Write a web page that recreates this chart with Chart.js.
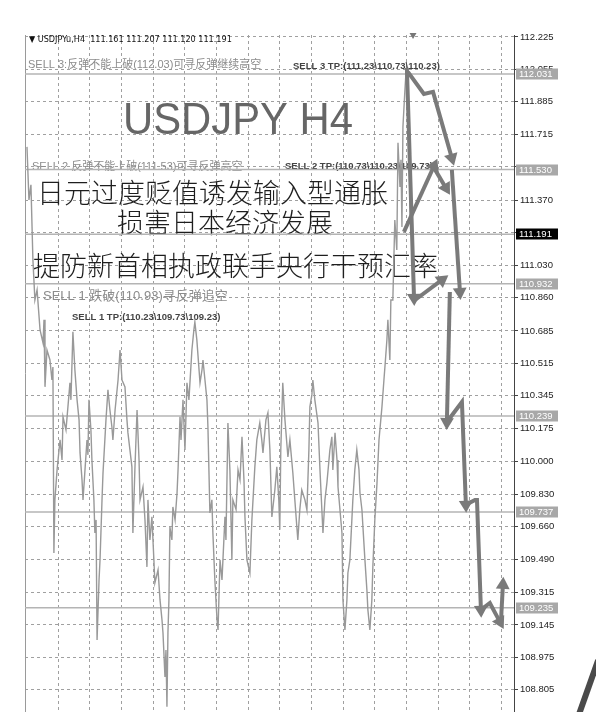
<!DOCTYPE html>
<html>
<head>
<meta charset="utf-8">
<script src="https://cdn.jsdelivr.net/npm/chart.js@4.4.1/dist/chart.umd.min.js"></script>
<style>
  html, body { margin: 0; padding: 0; background: #fff; }
  canvas { display: block; }
</style>
</head>
<body>
<canvas id="chart" width="596" height="712"></canvas>
<script>
// H4 bar index / price
const priceX = [
  0.3, 1.3, 2.3, 3.3, 4.3, 5.4, 6.9, 8.4, 8.9, 9.4,
  10.4, 11.9, 12.9, 13.4, 13.9, 14.4, 15.5, 17.0, 18.0, 18.5,
  20.0, 22.0, 22.5, 23.5, 24.5, 25.6, 26.6, 27.1, 28.1, 28.6,
  29.6, 30.6, 31.1, 31.6, 32.6, 33.1, 34.1, 34.6, 35.2, 35.7,
  36.7, 37.2, 38.2, 38.7, 40.2, 41.2, 42.2, 43.2, 43.7, 44.8,
  46.3, 47.3, 48.3, 49.8, 50.8, 51.3, 52.3, 53.3, 53.8, 54.8,
  55.9, 56.9, 57.4, 58.9, 59.9, 60.9, 61.4, 62.4, 63.4, 64.4,
  64.9, 66.5, 67.5, 68.5, 69.0, 70.0, 70.5, 71.0, 71.5, 72.0,
  72.5, 73.5, 74.0, 75.1, 76.1, 76.6, 77.6, 78.1, 79.1, 80.1,
  81.1, 82.1, 83.6, 84.6, 85.1, 86.1, 87.7, 88.7, 89.2, 90.2,
  91.2, 91.7, 92.7, 93.7, 94.2, 95.2, 96.3, 96.8, 97.8, 98.8,
  100.3, 100.8, 101.8, 102.8, 103.8, 104.3, 105.9, 106.9, 107.9, 108.9,
  109.9, 110.4, 111.4, 112.9, 113.9, 115.4, 116.4, 117.9, 118.9, 119.5,
  121.0, 122.0, 123.0, 124.0, 125.5, 126.5, 127.5, 128.0, 128.5, 129.5,
  130.6, 132.1, 133.1, 134.6, 135.6, 137.1, 138.1, 139.1, 140.7, 141.7,
  142.7, 143.2, 144.2, 144.7, 145.7, 147.3, 148.3, 149.8, 150.8, 151.8,
  153.3, 154.3, 154.8, 155.9, 156.9, 157.4, 158.4, 159.4, 159.9, 160.9,
  161.9, 162.4, 163.4, 164.9, 165.9, 166.9, 168.0, 168.5, 169.5, 170.0,
  171.0, 172.0, 172.5, 173.5, 174.5, 175.0, 176.0, 177.1, 178.1, 179.6,
  180.6, 181.1, 182.1, 182.6, 183.6, 184.1, 185.1, 186.1, 187.1, 187.7,
  188.7, 189.2, 189.7, 190.2, 191.2, 191.7, 192.7, 193.2, 193.7, 194.2,
];
const priceY = [
  111.649, 111.371, 111.450, 111.057, 110.847, 110.900, 110.690, 110.622, 110.743, 110.392,
  110.585, 110.533, 110.428, 110.496, 109.522, 109.800, 109.957, 110.114, 110.009, 110.235,
  110.166, 110.413, 110.324, 110.680, 110.481, 110.324, 110.219, 110.046, 109.905, 109.800,
  109.957, 110.114, 110.036, 110.324, 110.166, 110.009, 109.800, 109.627, 109.695, 109.066,
  109.381, 109.486, 109.800, 109.941, 110.219, 110.376, 110.271, 110.182, 110.114, 110.271,
  110.428, 110.585, 110.428, 110.392, 110.219, 110.151, 110.062, 109.973, 109.627, 109.957,
  110.271, 110.009, 109.800, 109.868, 109.695, 109.449, 109.800, 109.590, 109.711, 109.486,
  109.365, 109.433, 109.276, 109.171, 109.103, 108.873, 109.014, 108.716, 109.103, 109.276,
  109.658, 109.590, 109.763, 109.695, 109.836, 109.957, 110.235, 110.114, 110.324, 110.062,
  110.413, 110.324, 110.585, 110.690, 110.732, 110.638, 110.413, 110.481, 110.533, 110.428,
  110.324, 110.182, 109.732, 109.800, 109.627, 109.381, 109.171, 109.119, 109.486, 109.381,
  109.711, 109.590, 110.203, 109.957, 109.486, 109.800, 109.750, 109.957, 109.905, 110.130,
  109.905, 109.711, 109.486, 109.417, 109.695, 109.973, 110.114, 110.203, 110.114, 110.046,
  110.219, 110.256, 110.062, 109.711, 109.852, 109.973, 109.800, 109.643, 110.062, 110.413,
  110.219, 110.025, 110.114, 109.941, 109.800, 109.590, 109.747, 109.852, 109.800, 109.747,
  110.062, 110.287, 110.350, 110.428, 110.324, 110.203, 109.957, 109.627, 109.800, 109.889,
  110.062, 110.130, 109.957, 110.151, 110.009, 109.868, 109.747, 109.627, 109.276, 109.119,
  109.276, 109.417, 109.486, 109.800, 109.957, 110.062, 109.957, 109.836, 109.747, 109.658,
  109.486, 109.328, 109.224, 109.119, 109.276, 109.449, 109.695, 109.889, 110.114, 110.287,
  110.428, 110.496, 110.638, 110.743, 110.533, 110.847, 110.847, 111.266, 111.109, 111.670,
  111.439, 111.581, 111.230, 111.754, 111.947, 112.031, 112.000, 111.738, 111.371, 111.191,
];

// hand-drawn projection arrows (bar index / price)
const arrowX = [
  [192.2, 195.8],
  [196.3, 209.9],
  [190.7, 205.9],
  [205.9, 211.9],
  [192.7, 200.8, 205.4, 214.9],
  [214.9, 219.0],
  [213.9, 212.4],
  [212.4, 220.0, 222.0],
  [222.0, 226.6, 227.6, 229.6],
  [229.6, 234.1, 239.2],
  [239.7, 240.7],
];
const arrowY = [
  [112.063, 110.858],
  [110.847, 110.952],
  [111.204, 111.549],
  [111.539, 111.434],
  [112.042, 111.926, 111.937, 111.591],
  [111.528, 110.889],
  [110.889, 110.208],
  [110.208, 110.313, 109.774],
  [109.774, 109.800, 109.800, 109.224],
  [109.224, 109.260, 109.161],
  [109.161, 109.355],
];

// horizontal lines and their price labels
const levelValues = [112.031, 111.530, 111.191, 110.932, 110.239, 109.737, 109.235];
const bidLevel = 111.191;

const yTickValues = [
  112.225, 112.055, 111.885, 111.715, 111.545, 111.370, 111.200, 111.030, 110.860, 110.685,
  110.515, 110.345, 110.175, 110.000, 109.830, 109.660, 109.490, 109.315, 109.145, 108.975, 108.805,
];
// ticks whose label sits under a level label box
const coveredTicks = [111.545, 111.200];
const xGridValues = [16, 32, 48, 64, 80, 96, 112, 128, 144, 160, 176, 192, 208, 224, 240];

const headerText = "▼ USDJPYu,H4  111.161 111.207 111.120 111.191";
const titleText = "USDJPY H4";
const sellNotes = [
  "SELL 3:反弹不能上破(112.03)可寻反弹继续高空",
  "SELL 2 反弹不能上破(111.53)可寻反弹高空",
  "SELL 1 跌破(110.93)寻反弹追空",
];
const tpNotes = [
  "SELL 3 TP:(111.23\\110.73\\110.23)",
  "SELL 2 TP:(110.73\\110.23\\109.73)",
  "SELL 1 TP:(110.23\\109.73\\109.23)",
];
const headlines = ["日元过度贬值诱发输入型通胀", "损害日本经济发展", "提防新首相执政联手央行干预汇率"];

const shiftMarkerX = [195.3];
const shiftMarkerY = [112.235];
const penStrokeX = [278.2, 288.8];
const penStrokeY = [108.65, 108.96];

const X_MIN = -0.7;
const X_MAX = 246.3;
const Y_MIN = 108.689;
const Y_MAX = 112.235;

function toPoints(xs, ys) {
  return xs.map((x, i) => ({ x, y: ys[i] }));
}

function arrowRotation(ctx) {
  const data = ctx.dataset.data;
  const i = ctx.dataIndex;
  if (i === 0) return 0;
  const { x: xs, y: ys } = ctx.chart.scales;
  const dx = xs.getPixelForValue(data[i].x) - xs.getPixelForValue(data[i - 1].x);
  const dy = ys.getPixelForValue(data[i].y) - ys.getPixelForValue(data[i - 1].y);
  return Math.atan2(dx, -dy) * 180 / Math.PI;
}

const arrowDatasets = arrowX.map((xs, k) => ({
  label: `arrow${k}`,
  data: toPoints(xs, arrowY[k]),
  borderColor: "#7a7a7a",
  backgroundColor: "#7a7a7a",
  borderWidth: 4,
  pointStyle: "triangle",
  pointRadius: (ctx) => ctx.dataIndex === ctx.dataset.data.length - 1 ? 8 : 0,
  pointBorderWidth: 0,
  pointRotation: arrowRotation,
  tension: 0,
  order: 0,
}));

const levelDatasets = levelValues.map((v) => ({
  label: `level ${v}`,
  data: [{ x: X_MIN, y: v }, { x: X_MAX, y: v }],
  borderColor: "#b4b4b4",
  borderWidth: 1.5,
  pointRadius: 0,
  order: 3,
}));

const labelBoxes = {
  id: "labelBoxes",
  afterDraw(chart) {
    const c = chart.ctx;
    const y = chart.scales.y;
    c.save();
    c.font = '9.5px "Liberation Sans", Arial, sans-serif';
    c.textBaseline = "middle";
    levelValues.forEach((v) => {
      const py = Math.round(y.getPixelForValue(v));
      c.fillStyle = v === bidLevel ? "#000" : "#a8a8a8";
      c.fillRect(516, py - 5.5, 42, 11);
      c.fillStyle = "#fff";
      c.fillText(v.toFixed(3), 519, py + 0.5);
    });
    c.restore();
  },
};

const overlayText = {
  id: "overlayText",
  beforeDatasetsDraw(chart) {
    const c = chart.ctx;
    const area = chart.chartArea;
    c.save();
    // left frame
    c.strokeStyle = "#9a9a9a";
    c.lineWidth = 1;
    c.beginPath();
    c.moveTo(area.left + 0.5, area.top);
    c.lineTo(area.left + 0.5, area.bottom);
    c.stroke();

    c.textBaseline = "middle";
    c.fillStyle = "#111";
    c.font = '9px "DejaVu Sans Condensed", "Liberation Sans", sans-serif';
    c.fillText(headerText, 29, 40);

    const mixed = (size) => `${size}px "Liberation Sans", "Noto Sans CJK SC", sans-serif`;
    c.fillStyle = "#8c8c8c";
    c.font = mixed(11);
    c.fillText(sellNotes[0], 28, 65);
    c.fillText(sellNotes[1], 32, 167);
    c.font = mixed(13);
    c.fillText(sellNotes[2], 43, 296);

    c.fillStyle = "#444";
    c.font = 'bold 9.5px "Liberation Sans", Arial, sans-serif';
    c.fillText(tpNotes[0], 293, 66);
    c.fillText(tpNotes[1], 285, 166);
    c.fillText(tpNotes[2], 72, 317);

    // big title, fitted to the screenshot width
    c.fillStyle = "#666";
    c.font = '44px "Liberation Sans", Arial, sans-serif';
    const w = c.measureText(titleText).width;
    c.save();
    c.translate(123, 122);
    c.scale(230 / w, 1);
    c.fillText(titleText, 0, 0);
    c.restore();

    c.fillStyle = "#1e1e1e";
    c.font = '300 27px "Noto Sans CJK SC", sans-serif';
    c.fillText(headlines[0], 37, 193);
    c.fillText(headlines[1], 117, 223);
    c.fillText(headlines[2], 33, 266);
    c.restore();
  },
};

new Chart(document.getElementById("chart"), {
  type: "line",
  data: {
    datasets: [
      ...arrowDatasets,
      {
        label: "USDJPY H4",
        data: toPoints(priceX, priceY),
        borderColor: "#999",
        borderWidth: 1.4,
        pointRadius: 0,
        tension: 0,
        order: 1,
      },
      ...levelDatasets,
      {
        label: "shift",
        data: toPoints(shiftMarkerX, shiftMarkerY),
        showLine: false,
        pointStyle: "triangle",
        pointRotation: 180,
        pointRadius: 4,
        pointBorderWidth: 0,
        backgroundColor: "#777",
        clip: false,
        order: 0,
      },
      {
        label: "pen",
        data: toPoints(penStrokeX, penStrokeY),
        borderColor: "#4a4a4a",
        borderWidth: 6,
        pointRadius: 0,
        clip: false,
        order: 0,
      },
    ],
  },
  options: {
    responsive: false,
    animation: false,
    layout: { autoPadding: false, padding: { left: 25, top: 35, right: 0, bottom: 0 } },
    plugins: { legend: { display: false }, tooltip: { enabled: false } },
    scales: {
      x: {
        type: "linear",
        min: X_MIN,
        max: X_MAX,
        afterBuildTicks: (scale) => { scale.ticks = xGridValues.map((value) => ({ value })); },
        afterFit: (scale) => {
          scale.height = 0;
          scale.paddingLeft = scale.paddingRight = 0;
        },
        ticks: { display: false },
        grid: { color: "#a0a0a0", lineWidth: 1, drawTicks: false },
        border: { display: false, dash: [3, 3] },
      },
      y: {
        type: "linear",
        position: "right",
        min: Y_MIN,
        max: Y_MAX,
        afterBuildTicks: (scale) => { scale.ticks = yTickValues.map((value) => ({ value })); },
        afterFit: (scale) => {
          scale.width = 82;
          scale.paddingTop = scale.paddingBottom = 0;
        },
        ticks: {
          color: "#222",
          padding: 2,
          font: { family: '"Liberation Sans", Arial, sans-serif', size: 9.5 },
          callback: (v) => coveredTicks.includes(Number(v)) ? "" : Number(v).toFixed(3),
        },
        grid: { color: "#a0a0a0", lineWidth: 1, tickLength: 4, tickColor: "#444", tickBorderDash: [] },
        border: { display: true, color: "#444", width: 1, dash: [3, 3] },
      },
    },
  },
  plugins: [overlayText, labelBoxes],
});
</script>
</body>
</html>
